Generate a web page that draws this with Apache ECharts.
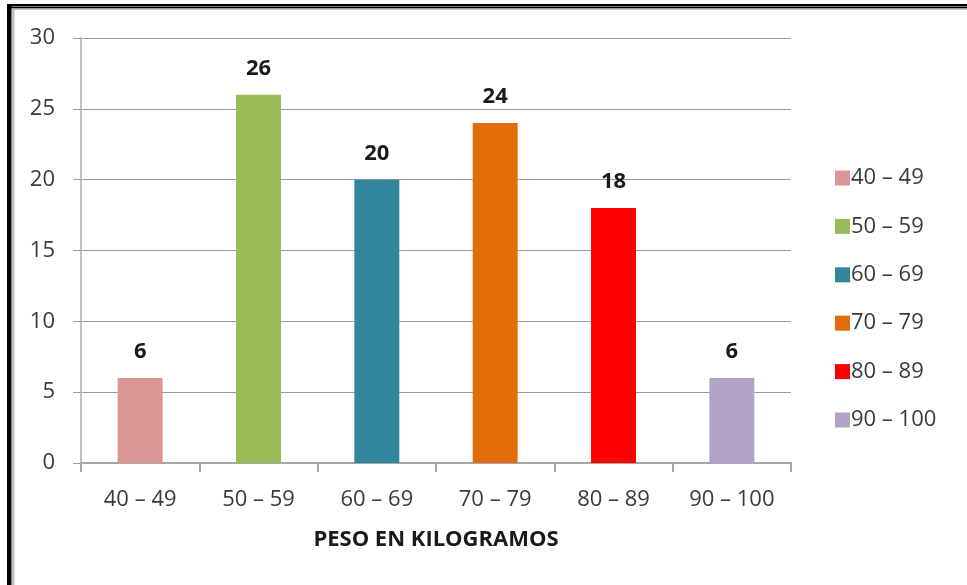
<!DOCTYPE html>
<html>
<head>
<meta charset="utf-8">
<style>
html,body{margin:0;padding:0;background:#fff;}
#chart{width:967px;height:585px;}
</style>
<script src="https://cdn.jsdelivr.net/npm/echarts@6/dist/echarts.min.js"></script>
</head>
<body>
<div id="chart"></div>
<script>
const categories = ['40 – 49', '50 – 59', '60 – 69', '70 – 79', '80 – 89', '90 – 100'];
const values = [6, 26, 20, 24, 18, 6];
const colors = ['#d99694', '#9bbb59', '#31859c', '#e46c0a', '#ff0000', '#b3a2c7'];
const yTicks = [0, 5, 10, 15, 20, 25, 30];
const axisTitle = 'PESO EN KILOGRAMOS';

const FONT = '"Open Sans", "Liberation Sans", sans-serif';

const series = categories.map((name, i) => ({
  name: name,
  type: 'bar',
  stack: 'total',
  barWidth: '38%',
  itemStyle: { color: colors[i] },
  label: {
    show: true,
    position: 'top',
    distance: 15,
    fontFamily: FONT,
    fontWeight: 'bold',
    fontSize: 22,
    color: '#1a1a1a',
    formatter: p => p.value == null ? '' : String(p.value)
  },
  data: categories.map((c, j) => j === i ? values[i] : null)
}));

const chart = echarts.init(document.getElementById('chart'), null, { renderer: 'canvas' });
chart.setOption({
  animation: false,
  backgroundColor: '#ffffff',
  grid: { left: 81, right: 176, top: 38, bottom: 122, containLabel: false },
  xAxis: {
    type: 'category',
    data: categories,
    boundaryGap: true,
    name: axisTitle,
    nameLocation: 'middle',
    nameGap: 66,
    nameTextStyle: { fontFamily: FONT, fontWeight: 'bold', fontSize: 22, color: '#1a1a1a' },
    axisLine: { lineStyle: { color: '#a6a6a6', width: 2 } },
    axisTick: { show: true, alignWithLabel: false, length: 9, lineStyle: { color: '#a6a6a6', width: 2 } },
    axisLabel: { fontFamily: FONT, fontSize: 22, color: '#3a3a3a', margin: 26, interval: 0 },
    splitLine: { show: false }
  },
  yAxis: {
    type: 'value',
    min: yTicks[0],
    max: yTicks[yTicks.length - 1],
    interval: 5,
    axisLine: { show: true, lineStyle: { color: '#c0c0c0', width: 2 } },
    axisTick: { show: true, length: 8, lineStyle: { color: '#9a9a9a' } },
    axisLabel: { fontFamily: FONT, fontSize: 22, color: '#3a3a3a', margin: 26 },
    splitLine: { show: true, lineStyle: { color: '#9a9a9a', width: 1 } }
  },
  legend: {
    orient: 'vertical',
    left: 830,
    top: 162,
    itemWidth: 15,
    itemHeight: 15,
    itemGap: 26.4,
    icon: 'rect',
    textStyle: { fontFamily: FONT, fontSize: 22, color: '#3a3a3a', padding: [0, 0, 0, -4] },
    data: categories
  },
  series: series,
  graphic: [
    { type: 'rect', shape: { x: 7, y: 4, width: 960, height: 2.5 }, style: { fill: '#000' }, silent: true },
    { type: 'rect', shape: { x: 7, y: 7, width: 960, height: 1.5 }, style: { fill: '#000' }, silent: true },
    { type: 'rect', shape: { x: 12, y: 8.5, width: 955, height: 1.5 }, style: { fill: '#c0c0c0' }, silent: true },
    { type: 'rect', shape: { x: 7, y: 4, width: 4.5, height: 581 }, style: { fill: '#000' }, silent: true },
    { type: 'rect', shape: { x: 12, y: 8.5, width: 2.5, height: 577 }, style: { fill: '#c0c0c0' }, silent: true }
  ]
});
</script>
</body>
</html>
